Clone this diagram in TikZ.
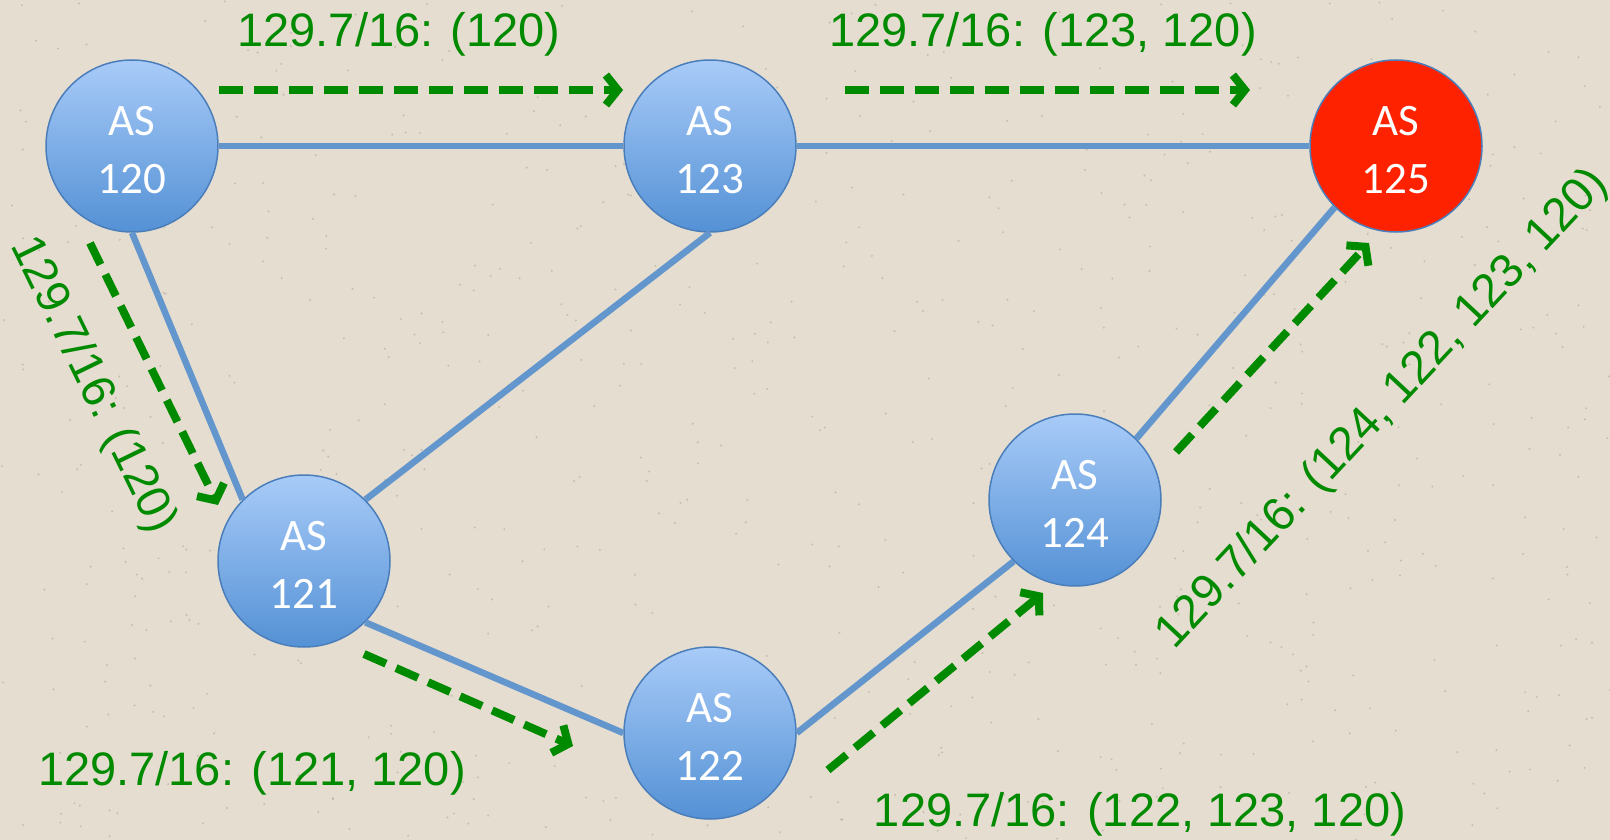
\documentclass[tikz,border=0pt]{standalone}
\usepackage{fontspec}
\setmainfont{Liberation Sans}
\newfontfamily\asfont{Carlito}
\usetikzlibrary{arrows.meta}

\definecolor{paper}{RGB}{229,221,207}
\definecolor{speck}{RGB}{140,130,115}
\definecolor{linkblue}{RGB}{98,150,204}
\definecolor{asrim}{RGB}{74,126,187}
\definecolor{astop}{RGB}{168,203,248}
\definecolor{asbot}{RGB}{84,145,213}
\definecolor{origin}{RGB}{255,34,0}
\definecolor{route}{RGB}{0,138,0}

\begin{document}
\begin{tikzpicture}[
  x=1pt,y=-1pt,
  asbase/.style={circle,draw=asrim,line width=1.5pt,minimum size=172pt,inner sep=0pt,
    text=white,align=center,text height=95pt,text depth=0pt,
    font=\asfont\fontsize{45}{58}\selectfont},
  as/.style={asbase,top color=astop,bottom color=asbot},
  home/.style={asbase,fill=origin},
  peering/.style={draw=linkblue,line width=6.5pt},
  adv/.style={-{Straight Barb[length=12pt,width=30pt]},draw=route,line width=8pt,
    dash pattern=on 24pt off 11pt},
  advlabel/.style={text=route,inner sep=0pt,font=\fontsize{47}{56}\selectfont}
]
  % paper background
  \fill[paper] (0,0) rectangle (1610,840);
  \useasboundingbox (0,0) rectangle (1610,840);
  \pgfmathsetseed{42}
  \foreach \i in {1,...,700}
    \fill[speck,opacity=0.35] ({rnd*1610},{rnd*840}) circle (1.1pt);

  % autonomous systems
  \node[as] (as120) at (132,146) {AS\\120};
  \node[as] (as123) at (710,146) {AS\\123};
  \node[home] (as125) at (1396,146) {AS\\125};
  \node[as] (as121) at (304,561) {AS\\121};
  \node[as] (as122) at (710,733) {AS\\122};
  \node[as] (as124) at (1075,500) {AS\\124};

  % links
  \draw[peering] (as120.east) -- (as123.west);
  \draw[peering] (as123.east) -- (as125.west);
  \draw[peering] (as120.south) -- (as121.north west);
  \draw[peering] (as121.north east) -- (as123.south);
  \draw[peering] (as121.south east) -- (as122.west);
  \draw[peering] (as122.east) -- (as124.south west);
  \draw[peering] (as124.north east) -- (as125.south west);

  % route advertisements
  \coordinate (adv1s) at (219,90);   \coordinate (adv1e) at (623,90);
  \coordinate (adv2s) at (845,90);   \coordinate (adv2e) at (1250,90);
  \coordinate (adv3s) at (90,243);   \coordinate (adv3e) at (218,505);
  \coordinate (adv4s) at (364,654);  \coordinate (adv4e) at (573,746);
  \coordinate (adv5s) at (828,770);  \coordinate (adv5e) at (1043,593);
  \coordinate (adv6s) at (1176,452); \coordinate (adv6e) at (1369,243);
  \foreach \n in {1,...,6}
    \draw[adv] (adv\n s) -- (adv\n e);

  \node[advlabel] (lbl1) at (399,34) {129.7/16: (120)};
  \node[advlabel] (lbl2) at (1043,34) {129.7/16: (123, 120)};
  \node[advlabel,rotate=-64] (lbl3) at (92,385) {129.7/16: (120)};
  \node[advlabel] (lbl4) at (252,773) {129.7/16: (121, 120)};
  \node[advlabel] (lbl5) at (1140,814) {129.7/16: (122, 123, 120)};
  \node[advlabel,rotate=47] (lbl6) at (1383,409) {129.7/16: (124, 122, 123, 120)};
\end{tikzpicture}
\end{document}
